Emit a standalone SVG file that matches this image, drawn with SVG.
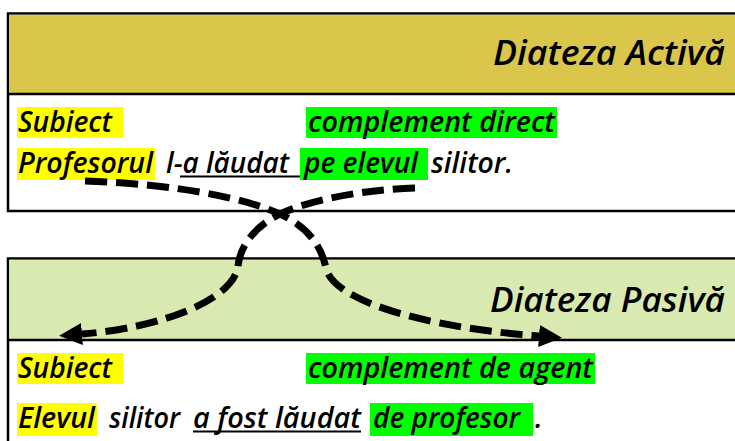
<svg xmlns="http://www.w3.org/2000/svg" width="735" height="441" viewBox="0 0 735 441">
  <style>
    .box { fill: #ffffff; stroke: #000000; stroke-width: 2.5; }
    .hdr-a { fill: #D9C64A; }
    .hdr-p { fill: #D8EAB0; }
    .div { stroke: #000000; stroke-width: 2.5; }
    .t { font-family: "Open Sans", "DejaVu Sans", sans-serif; font-style: italic; font-weight: 600; font-size: 28.5px; fill: #000000; }
    .title { font-family: "Open Sans", "DejaVu Sans", sans-serif; font-style: italic; font-weight: 600; font-size: 34px; fill: #000000; }
    .hy { fill: #FFFF00; }
    .hg { fill: #00FF00; }
    .ul { stroke: #000000; stroke-width: 2; }
    .conn { fill: none; stroke: #000000; stroke-width: 7; stroke-dasharray: 22 9; }
  </style>
  <defs>
    <marker id="arrow" markerUnits="userSpaceOnUse" markerWidth="24" markerHeight="24" refX="0" refY="12" orient="auto">
      <path d="M0,1 L23,12 L0,23 Z" fill="#000000"/>
    </marker>
  </defs>
  <rect width="735" height="441" fill="#ffffff"/>

  <g id="diateza-activa">
    <rect class="box" x="8" y="13.5" width="740" height="197.5"/>
    <rect class="hdr-a" x="9.25" y="14.75" width="738" height="78.5"/>
    <line class="div" x1="8" y1="94" x2="748" y2="94"/>
    <text class="title" x="725" y="65" text-anchor="end" textLength="232" lengthAdjust="spacingAndGlyphs">Diateza Activă</text>
    <rect class="hy" x="17" y="107" width="106" height="31"/>
    <text class="t" x="18" y="132" textLength="94" lengthAdjust="spacingAndGlyphs">Subiect</text>
    <rect class="hg" x="306" y="107" width="251" height="31"/>
    <text class="t" x="308" y="132" textLength="247" lengthAdjust="spacingAndGlyphs">complement direct</text>
    <rect class="hy" x="17" y="148" width="138" height="32"/>
    <text class="t" x="18" y="173" textLength="135" lengthAdjust="spacingAndGlyphs">Profesorul</text>
    <text class="t" x="166" y="173" textLength="123" lengthAdjust="spacingAndGlyphs">l-a lăudat</text>
    <line class="ul" x1="180" y1="176.5" x2="300" y2="176.5"/>
    <rect class="hg" x="300" y="148" width="128" height="32"/>
    <text class="t" x="304" y="173" textLength="114" lengthAdjust="spacingAndGlyphs">pe elevul</text>
    <text class="t" x="431" y="173" textLength="82" lengthAdjust="spacingAndGlyphs">silitor.</text>
  </g>

  <g id="diateza-pasiva">
    <rect class="box" x="8" y="258.5" width="740" height="200"/>
    <rect class="hdr-p" x="9.25" y="259.75" width="738" height="79.5"/>
    <line class="div" x1="8" y1="340" x2="748" y2="340"/>
    <text class="title" x="725" y="312" text-anchor="end" textLength="235" lengthAdjust="spacingAndGlyphs">Diateza Pasivă</text>
    <rect class="hy" x="17" y="353" width="106" height="31"/>
    <text class="t" x="18" y="378" textLength="94" lengthAdjust="spacingAndGlyphs">Subiect</text>
    <rect class="hg" x="306" y="353" width="289" height="31"/>
    <text class="t" x="308" y="378" textLength="285" lengthAdjust="spacingAndGlyphs">complement de agent</text>
    <rect class="hy" x="17" y="403" width="80" height="33"/>
    <text class="t" x="18" y="428" textLength="77" lengthAdjust="spacingAndGlyphs">Elevul</text>
    <text class="t" x="109" y="428" textLength="71" lengthAdjust="spacingAndGlyphs">silitor</text>
    <text class="t" x="193" y="428" textLength="168" lengthAdjust="spacingAndGlyphs">a fost lăudat</text>
    <line class="ul" x1="193" y1="431.5" x2="361" y2="431.5"/>
    <rect class="hg" x="370" y="403" width="163" height="33"/>
    <text class="t" x="373" y="428" textLength="147" lengthAdjust="spacingAndGlyphs">de profesor</text>
    <text class="t" x="535" y="428">.</text>
  </g>

  <g id="connectors">
    <path class="conn" d="M85,181 C175,184 245,198 280,214 C312,229 322,250 326,268 C333,300 420,327 539,336" marker-end="url(#arrow)"/>
    <path class="conn" d="M415,188 C360,190 310,200 280,214 C252,228 240,248 238,266 C234,300 160,328 82,334" marker-end="url(#arrow)"/>
  </g>
</svg>
